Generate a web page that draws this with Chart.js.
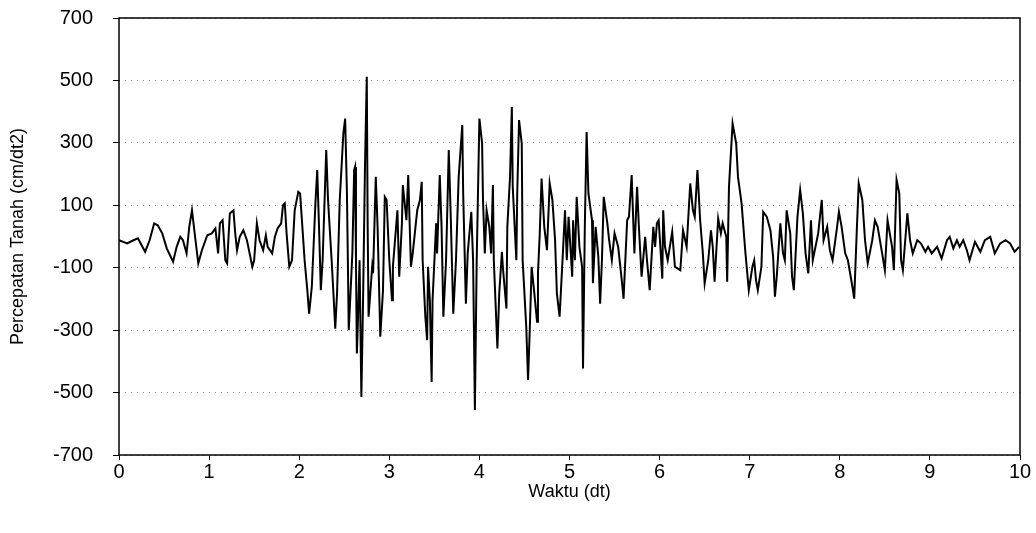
<!DOCTYPE html>
<html>
<head>
<meta charset="utf-8">
<script src="https://cdn.jsdelivr.net/npm/chart.js@4"></script>
<style>
  body { margin: 0; background: #fff; }
  canvas { display: block; }
</style>
</head>
<body>
<canvas id="myChart" width="1036" height="533"></canvas>
<script>
// waktu (dt) dan percepatan tanah (cm/dt2)
const times = [
  0.00, 0.09, 0.16, 0.21, 0.29, 0.34, 0.39, 0.43, 0.48, 0.53, 0.60, 0.64, 0.68, 0.71, 0.75, 0.78, 0.81, 0.84, 0.88, 0.92, 0.98, 1.03, 1.07, 1.10,
  1.12, 1.15, 1.18, 1.20, 1.23, 1.27, 1.29, 1.31, 1.34, 1.38, 1.42, 1.48, 1.50, 1.53, 1.56, 1.60, 1.63, 1.65, 1.70, 1.73, 1.76, 1.80, 1.82, 1.84, 1.86, 1.89, 1.92, 1.95, 1.99, 2.01, 2.04, 2.06, 2.09, 2.11, 2.14, 2.18, 2.20,
  2.22, 2.24, 2.26, 2.30, 2.32, 2.36, 2.38, 2.40, 2.42, 2.45, 2.49, 2.51, 2.53, 2.54, 2.55, 2.59, 2.61, 2.62, 2.63, 2.64, 2.65, 2.67, 2.69, 2.71, 2.73, 2.75, 2.76, 2.77, 2.81, 2.82, 2.85, 2.87, 2.90, 2.93, 2.95, 2.97,
  3.00, 3.03, 3.04, 3.09, 3.11, 3.14, 3.15, 3.19, 3.21, 3.24, 3.26, 3.31, 3.34, 3.36, 3.37, 3.40, 3.42, 3.43, 3.45, 3.47, 3.48, 3.52, 3.53, 3.56, 3.58, 3.60, 3.63, 3.66, 3.68, 3.71, 3.74, 3.77, 3.81, 3.82, 3.85, 3.87, 3.91, 3.93, 3.95, 3.97,
  4.00, 4.03, 4.04, 4.06, 4.08, 4.11, 4.13, 4.15, 4.16, 4.20, 4.22, 4.25, 4.26, 4.30, 4.31, 4.34, 4.36, 4.37, 4.41, 4.42, 4.44, 4.47, 4.48, 4.52, 4.54, 4.56, 4.58, 4.61, 4.64, 4.65, 4.67, 4.69, 4.72, 4.75, 4.78, 4.81, 4.84, 4.86, 4.89, 4.93, 4.95, 4.97, 4.99,
  5.03, 5.04, 5.06, 5.08, 5.11, 5.14, 5.15, 5.17, 5.19, 5.21, 5.25, 5.26, 5.29, 5.32, 5.34, 5.36, 5.38, 5.42, 5.44, 5.47, 5.50, 5.54, 5.58, 5.60, 5.64, 5.66, 5.69, 5.72, 5.75, 5.77, 5.80, 5.84, 5.86, 5.89, 5.93, 5.95, 5.97, 5.99,
  6.03, 6.04, 6.06, 6.09, 6.14, 6.17, 6.23, 6.26, 6.30, 6.34, 6.37, 6.39, 6.42, 6.45, 6.48, 6.50, 6.54, 6.57, 6.59, 6.61, 6.65, 6.68, 6.70, 6.74, 6.75, 6.77, 6.81, 6.85, 6.87, 6.91, 6.95, 6.99,
  7.03, 7.05, 7.07, 7.09, 7.13, 7.15, 7.19, 7.23, 7.26, 7.28, 7.30, 7.34, 7.37, 7.39, 7.41, 7.45, 7.47, 7.49, 7.53, 7.56, 7.59, 7.62, 7.65, 7.68, 7.70, 7.76, 7.80, 7.82, 7.86, 7.89, 7.92, 7.97, 7.99,
  8.02, 8.06, 8.09, 8.14, 8.16, 8.19, 8.21, 8.25, 8.28, 8.31, 8.36, 8.39, 8.42, 8.47, 8.50, 8.53, 8.58, 8.60, 8.63, 8.66, 8.68, 8.70, 8.75, 8.78, 8.81, 8.86, 8.90, 8.95, 8.98,
  9.02, 9.08, 9.13, 9.19, 9.22, 9.26, 9.30, 9.33, 9.37, 9.41, 9.44, 9.50, 9.56, 9.61, 9.67, 9.72, 9.78, 9.84, 9.89, 9.94, 9.99
]
const accel = [
  -12, -22, -12, -6, -49, -12, 42, 36, 10, -38, -81, -33, -1, -12, -54, 31, 84, 10, -86, -44, 4, 10, 26, -54,
  42, 52, -76, -86, 74, 84, 10, -44, -1, 20, -12, -97, -76, 42, -12, -44, 4, -33, -54, -1, 26, 42, 100, 106, 10, -97, -76, 84, 143, 138, 10, -76, -172, -247, -161, 106, 213,
  31, -172, -76, 277, 117, -76, -183, -295, -183, 117, 330, 378, 138, -76, -300, -54, 213, 223, -76, -375, -289, -76, -514, -183, 223, 512, 31, -257, -97, -118, 191, 31, -321, -172, 127, 117,
  -76, -204, -97, 84, -129, 42, 165, 52, 197, -97, -54, 84, 117, 175, -76, -257, -332, -97, -204, -466, -204, 42, -54, 197, 31, -257, -76, 277, 84, -247, -76, 191, 357, 138, -215, -54, 79, -76, -556, -76,
  378, 298, 117, -54, 84, 31, -54, 165, -76, -359, -183, -49, -97, -231, 31, 191, 415, 159, -76, 138, 373, 298, -76, -289, -460, -289, -97, -183, -273, -118, 10, 186, 31, -44, 170, 117, -12, -183, -257, -33, 84, -76, 63,
  -129, 52, -76, 127, -33, -97, -423, 31, 335, 138, 52, -150, 31, -65, -215, -76, 127, 42, -12, -76, 10, -33, -140, -199, 52, 63, 197, -54, 159, 31, -129, -1, -76, -172, 31, -33, 42, 52,
  -135, 84, -33, -76, 15, -97, -108, 20, -33, 170, 84, 63, 213, 52, -54, -150, -76, 20, -33, -145, 58, 10, 42, -1, -145, 159, 362, 298, 191, 106, -44, -172,
  -97, -76, -140, -172, -97, 79, 63, 20, -65, -193, -129, 42, -54, -76, 84, 10, -129, -172, 63, 149, 74, -54, -118, 52, -76, 10, 117, -12, 31, -44, -76, 31, 79,
  31, -54, -76, -161, -199, 31, 170, 117, -12, -86, -12, 52, 31, -54, -108, 52, -33, -108, 181, 138, -76, -108, 74, -12, -54, -12, -22, -49, -33,
  -54, -33, -70, -12, -1, -38, -12, -33, -12, -44, -76, -17, -49, -12, -1, -54, -22, -12, -22, -49, -33
]
const xTicks = [0, 1, 2, 3, 4, 5, 6, 7, 8, 9, 10]
const yTicks = [-700, -500, -300, -100, 100, 300, 500, 700]

if (times.length !== accel.length) console.log("panjang data beda", times.length, accel.length)

const points = times.map((t, i) => ({ x: t, y: accel[i] }))
const font = "'Liberation Sans', Arial, sans-serif"

// garis kotak di sekeliling area plot
const frame = {
  id: "frame",
  afterDraw(chart) {
    const { ctx, chartArea: a } = chart
    ctx.save()
    ctx.strokeStyle = "#000"
    ctx.lineWidth = 1.5
    ctx.strokeRect(a.left, a.top, a.right - a.left, a.bottom - a.top)
    ctx.restore()
  }
}

const ctx = document.getElementById("myChart").getContext("2d")
new Chart(ctx, {
  type: "scatter",
  data: {
    datasets: [{
      data: points,
      showLine: true,
      borderColor: "#000",
      borderWidth: 2,
      pointRadius: 0,
      tension: 0
    }]
  },
  options: {
    responsive: false,
    animation: false,
    layout: { padding: { top: 18, right: 16, left: 0, bottom: 30 } },
    plugins: { legend: { display: false }, tooltip: { enabled: false } },
    scales: {
      x: {
        type: "linear",
        min: 0, max: 10,
        afterBuildTicks: s => { s.ticks = xTicks.map(v => ({ value: v })) },
        afterFit: s => { s.height = 48 },
        grid: { drawOnChartArea: false, drawTicks: true, tickLength: 5, tickColor: "#000", tickWidth: 1 },
        border: { display: false },
        ticks: { color: "#000", font: { family: font, size: 20 }, padding: 0, maxRotation: 0 },
        title: { display: true, text: "Waktu (dt)", color: "#000", font: { family: font, size: 18 }, padding: { top: 0, bottom: 0 } }
      },
      y: {
        min: -700, max: 700,
        afterBuildTicks: s => { s.ticks = yTicks.map(v => ({ value: v })) },
        afterFit: s => { s.width = 119; s.paddingTop = 0; s.paddingBottom = 0 },
        grid: { color: "#999", lineWidth: 1, drawTicks: true, tickLength: 6, tickColor: "#000", tickWidth: 1, tickBorderDash: [10, 0] },
        border: { display: false, dash: [1, 5] },
        ticks: { color: "#000", font: { family: font, size: 20 }, padding: 20 },
        title: { display: true, text: "Percepatan Tanah (cm/dt2)", color: "#000", font: { family: font, size: 18 }, padding: { top: 7, bottom: 0 } }
      }
    }
  },
  plugins: [frame]
})
</script>
</body>
</html>
